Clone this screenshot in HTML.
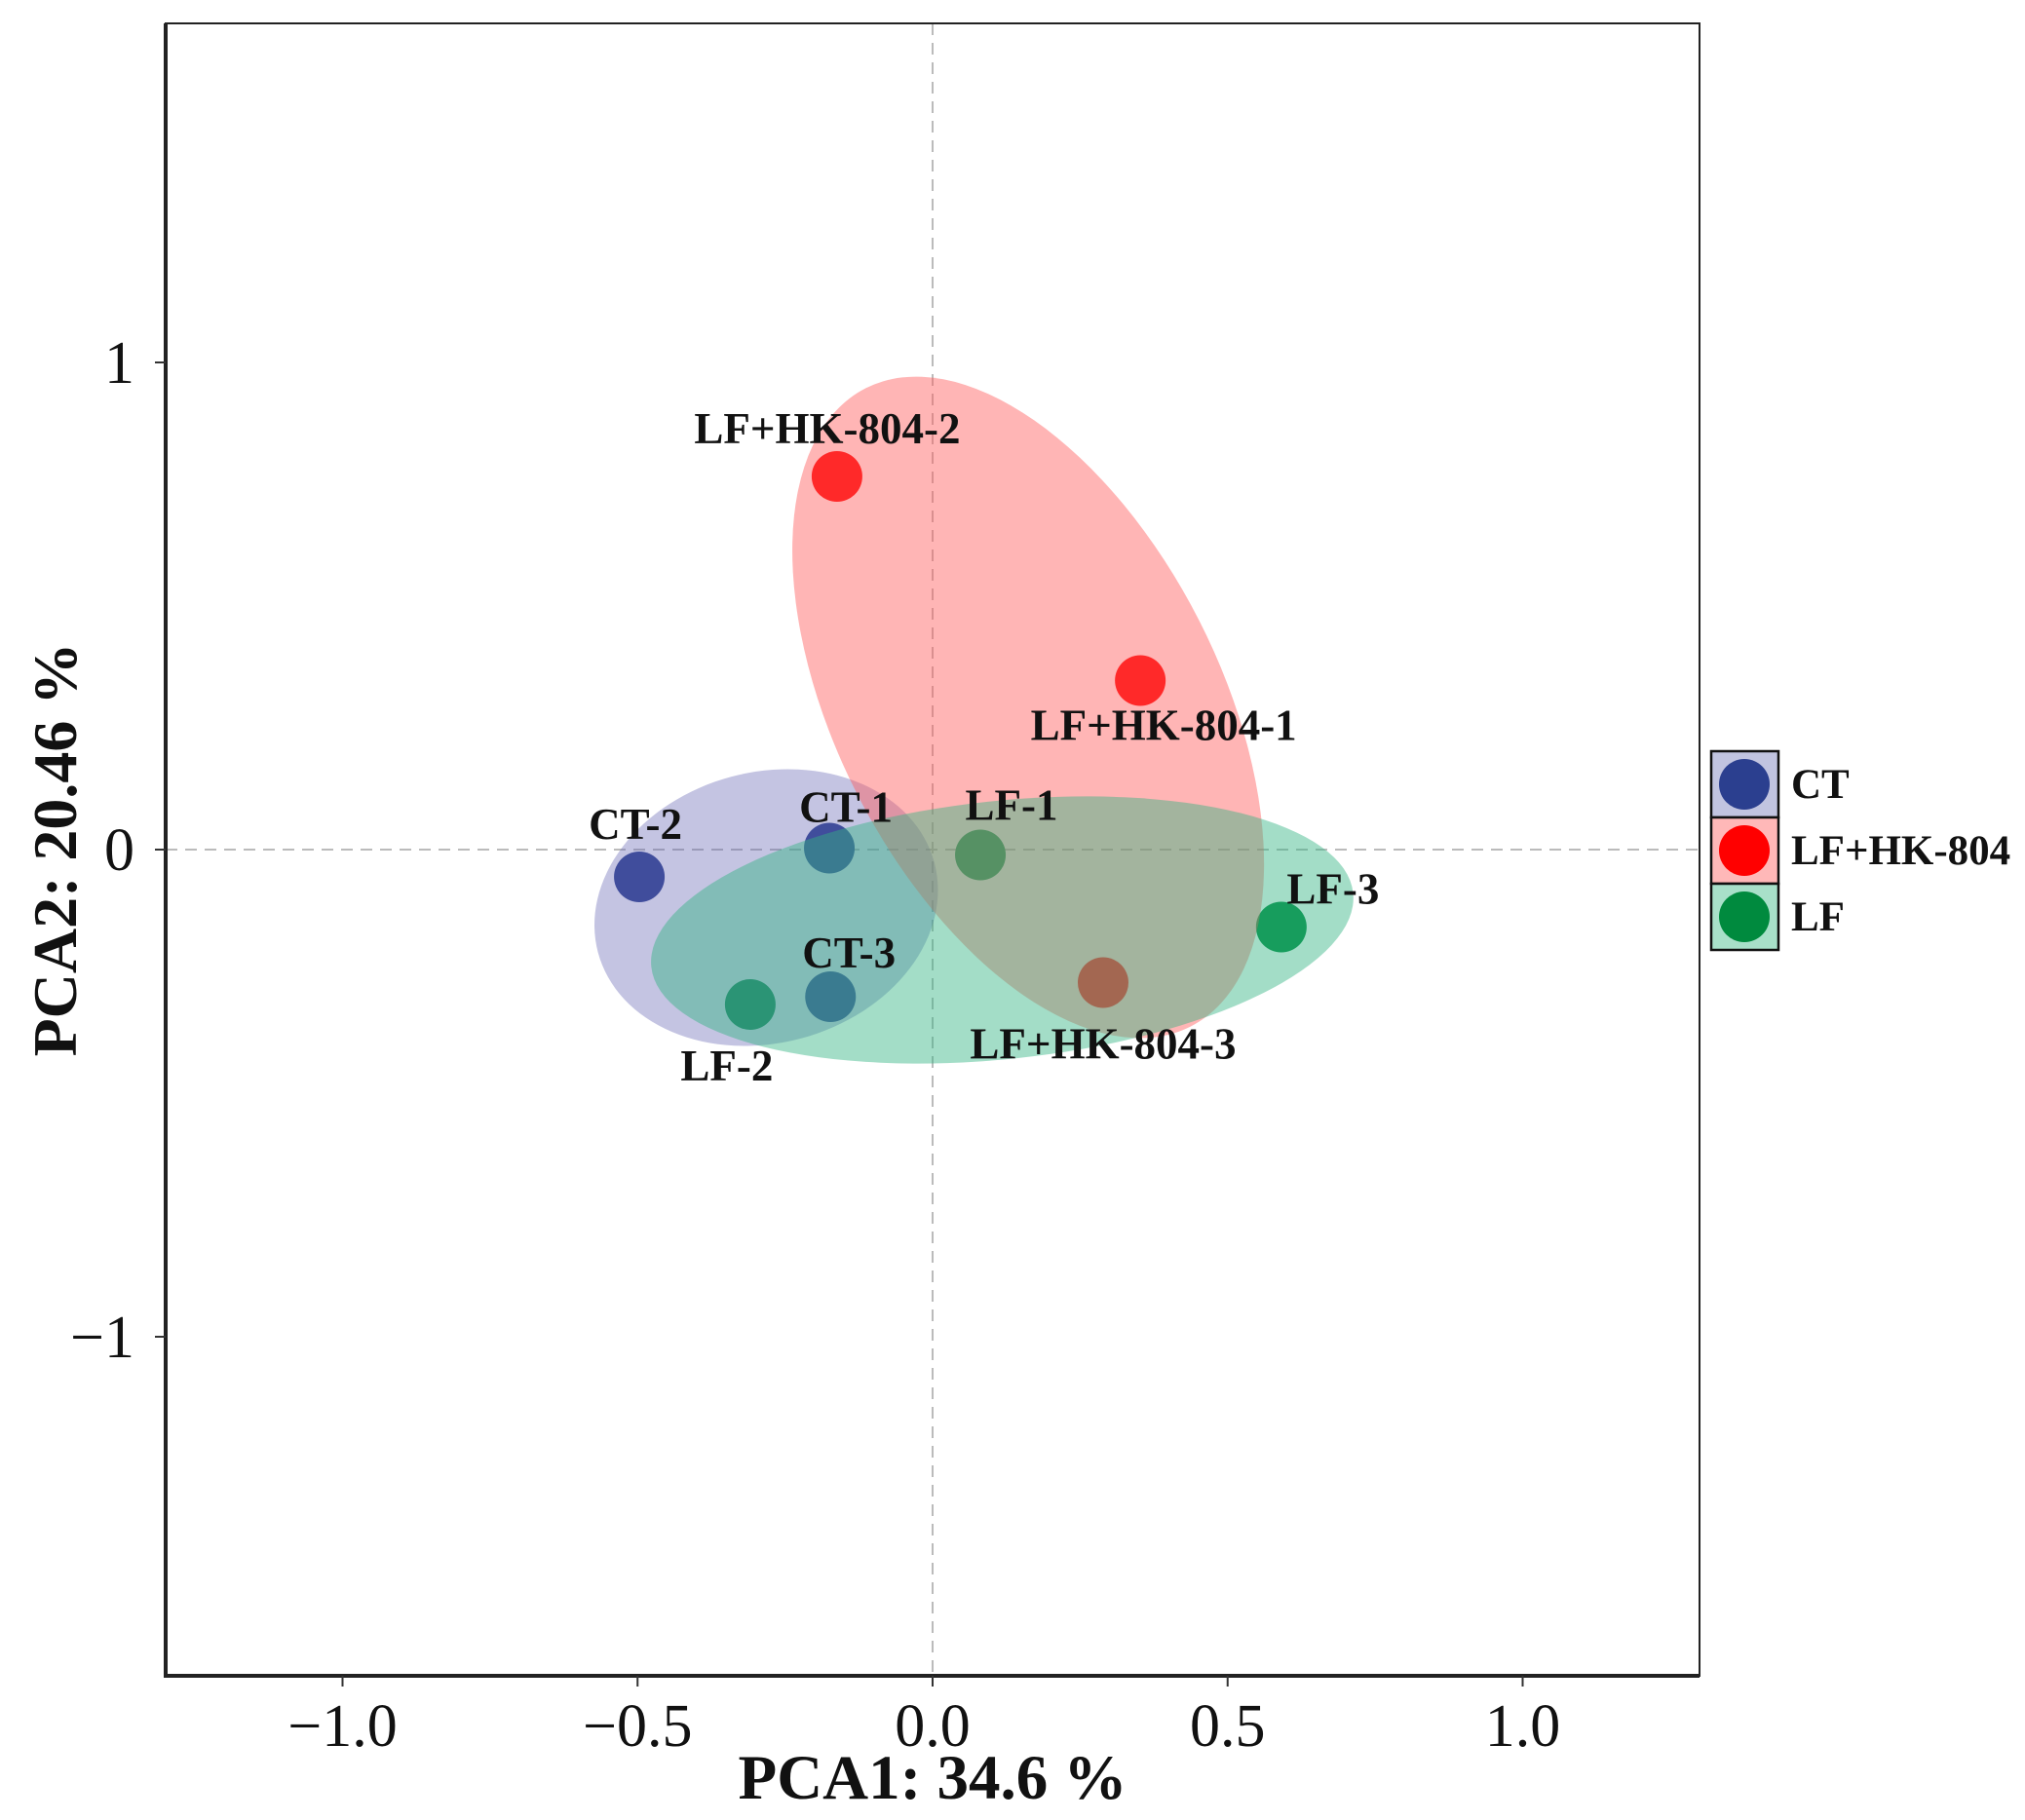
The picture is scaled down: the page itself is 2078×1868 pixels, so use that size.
<!DOCTYPE html>
<html><head><meta charset="utf-8"><style>
html,body{margin:0;padding:0;background:#fff;}
svg{display:block;font-family:"Liberation Serif",serif;}
</style></head><body>
<svg id="chart" width="2078" height="1868" viewBox="0 0 2078 1868">
<rect x="0" y="0" width="2078" height="1868" fill="#fff"/>
<g id="plot"></g>
</svg>
<script>
const sampleNames = ["CT-1","CT-2","CT-3","LF+HK-804-1","LF+HK-804-2","LF+HK-804-3","LF-1","LF-2","LF-3"];
const sampleGroups = [0,0,0,1,1,1,2,2,2];
const pca1Values = [-0.175,-0.497,-0.173,0.352,-0.162,0.289,0.081,-0.309,0.591];
const pca2Values = [0.003,-0.056,-0.302,0.347,0.766,-0.273,-0.011,-0.318,-0.159];
const groupNames = ["CT","LF+HK-804","LF"];
const ellipseCx = [-0.282,0.162,0.118];
const ellipseCy = [-0.119,0.292,-0.165];
const ellipseRx = [0.295,0.325,0.598];
const ellipseRy = [0.278,0.735,0.265];
const ellipseAngle = [-15,-27,-6];
const xTicks = [-1.0,-0.5,0.0,0.5,1.0];
const xTickLabels = ["\u22121.0","\u22120.5","0.0","0.5","1.0"];
const yTicks = [-1,0,1];
const yTickLabels = ["\u22121","0","1"];
const labelDx = [17,-4,19,24,-10,0,32,-24,53];
const labelDy = [-42,-54,-45,46,-49,63,-51,63,-39];

const NS="http://www.w3.org/2000/svg";
const L=170,R=1744,T=24,B=1720;
const X0=957,XU=605.5,Y0=872,YU=500;
const sx=v=>X0+v*XU, sy=v=>Y0-v*YU;
const ptColors=["#2b3f8f","#ff0000","#008a3e"];
const ellColors=["rgba(100,100,180,0.38)","rgba(255,90,90,0.45)","rgba(50,180,130,0.45)"];
const legFill=["#c1c4e0","#ffb8b8","#a8e0c9"];
const svg=document.getElementById('plot');
function mk(t,a,p){const e=document.createElementNS(NS,t);for(const k in a)e.setAttribute(k,a[k]);(p||svg).appendChild(e);return e;}

let e;
e=mk('line',{x1:L,x2:R,y1:sy(0),y2:sy(0),stroke:'#bbb','stroke-width':2,'stroke-dasharray':'12 8'});


e=mk('line',{x1:sx(0),x2:sx(0),y1:T,y2:B,stroke:'#bbb','stroke-width':2,'stroke-dasharray':'12 8'});



for(let i=0;i<sampleNames.length;i++){
 e=mk('circle',{cx:sx(pca1Values[i]),cy:sy(pca2Values[i]),r:26,fill:ptColors[sampleGroups[i]]});
 
 
}
for(let g=0;g<3;g++){
 const cx=sx(ellipseCx[g]),cy=sy(ellipseCy[g]);
 e=mk('ellipse',{cx:cx,cy:cy,rx:ellipseRx[g]*XU,ry:ellipseRy[g]*YU,fill:ellColors[g],transform:`rotate(${ellipseAngle[g]} ${cx} ${cy})`});
 
 
}
for(let i=0;i<sampleNames.length;i++){
 e=mk('text',{x:sx(pca1Values[i])+labelDx[i],y:sy(pca2Values[i])+labelDy[i]+15,'text-anchor':'middle','font-size':45,'font-weight':'bold',fill:'#111'});
 e.textContent=sampleNames[i];
 
 
}
e=mk('rect',{x:L,y:T,width:R-L,height:B-T,fill:'none',stroke:'#222','stroke-width':2});


mk('line',{x1:L,x2:L,y1:T,y2:B+2,stroke:'#222','stroke-width':4});
mk('line',{x1:L-2,x2:R,y1:B,y2:B,stroke:'#222','stroke-width':4});

for(let i=0;i<xTicks.length;i++){
 mk('line',{x1:sx(xTicks[i]),x2:sx(xTicks[i]),y1:B,y2:B+11,stroke:'#333','stroke-width':2});
 e=mk('text',{x:sx(xTicks[i]),y:1792,'text-anchor':'middle','font-size':62,fill:'#111'});
 e.textContent=xTickLabels[i];
 
 
}
for(let i=0;i<yTicks.length;i++){
 mk('line',{x1:L-11,x2:L,y1:sy(yTicks[i]),y2:sy(yTicks[i]),stroke:'#333','stroke-width':2});
 e=mk('text',{x:138,y:sy(yTicks[i])+21,'text-anchor':'end','font-size':62,fill:'#111'});
 e.textContent=yTickLabels[i];
 
 
}
e=mk('text',{x:957,y:1846,'text-anchor':'middle','font-size':65,'font-weight':'bold',fill:'#111'});
e.textContent='PCA1: 34.6 %';


e=mk('text',{x:0,y:0,'text-anchor':'middle','font-size':64,'font-weight':'bold',fill:'#111',transform:'translate(78 872) rotate(-90)'});
e.textContent='PCA2: 20.46 %';



for(let g=0;g<3;g++){
 const y=771+g*68;
 const grp=mk('g',{});
 
 
 mk('rect',{x:1756,y:y,width:69,height:68,fill:legFill[g],stroke:'#111','stroke-width':2.5},grp);
 mk('circle',{cx:1790,cy:y+34,r:26,fill:ptColors[g]},grp);
 const t=mk('text',{x:1838,y:y+48,'font-size':43,'font-weight':'bold',fill:'#111'},grp);
 t.textContent=groupNames[g];
}
</script>
</body></html>
